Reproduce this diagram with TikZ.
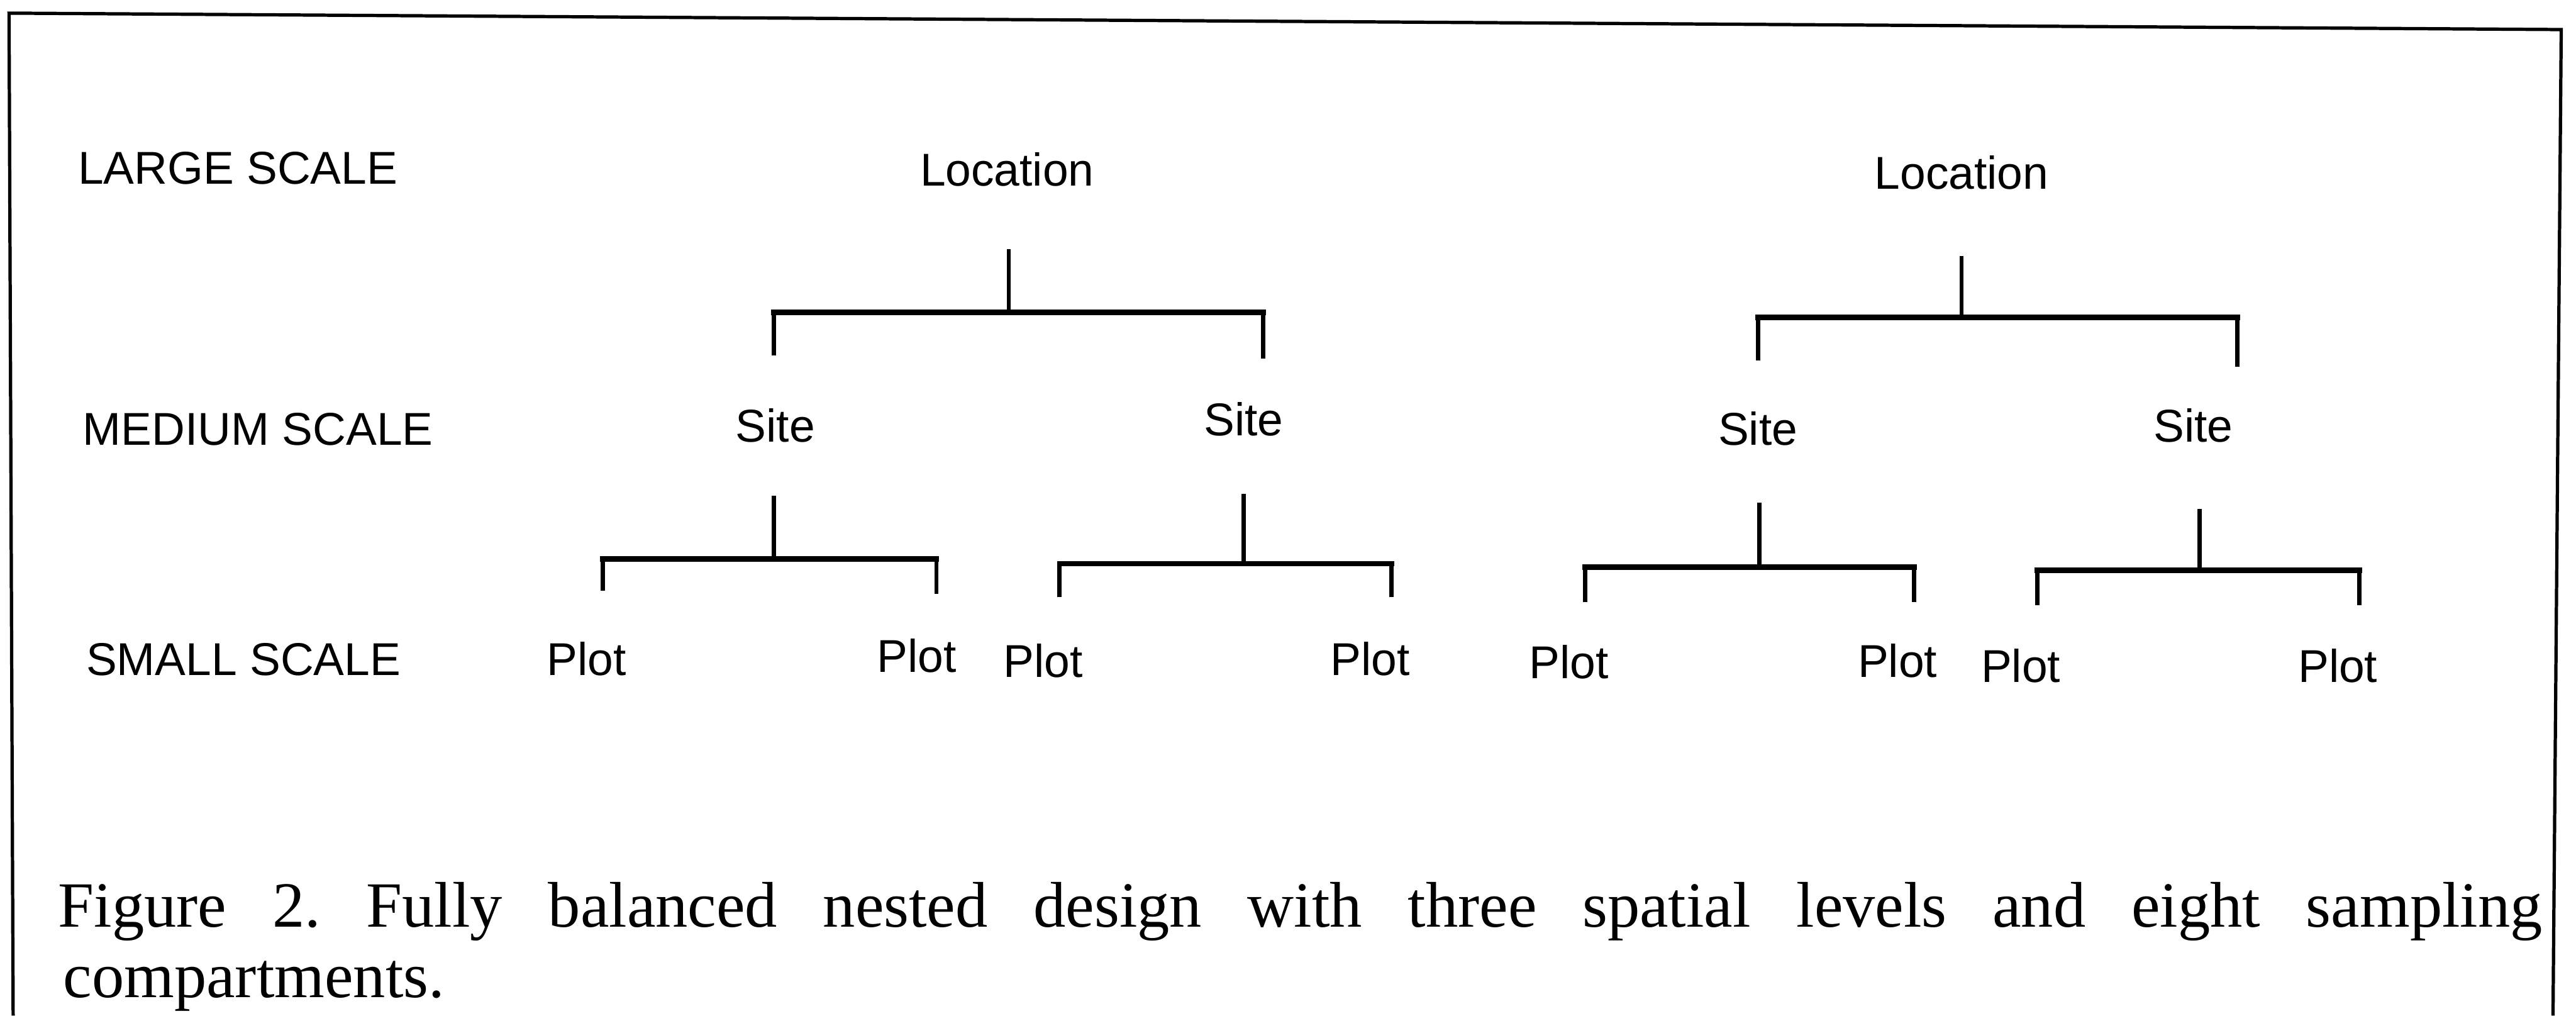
\documentclass[tikz,border=0pt]{standalone}
\usepackage{fontspec}
\setmainfont{Liberation Serif}
\newfontfamily\labfont{Liberation Sans}
\begin{document}
\frenchspacing
\begin{tikzpicture}[x=0.4pt,y=-0.4pt,
  lab/.style={font=\labfont\fontsize{11.2pt}{13pt}\selectfont, inner sep=0pt, anchor=base},
  lvl/.style={font=\labfont\fontsize{11.2pt}{13pt}\selectfont, inner sep=0pt, anchor=base west},
  capt/.style={font=\fontsize{15.7pt}{18pt}\selectfont, inner sep=0pt, anchor=base west},
  tree/.style={line width=1.05pt, line cap=rect},
  bar/.style={line width=1.35pt, line cap=rect},
  frame/.style={line width=0.8pt}]
\useasboundingbox (0,0) rectangle (1568,618);
% frame
\draw[frame] (8,618) -- (5.5,8) -- (1559,18) -- (1554,618);
% level labels
\node[lvl] (large) at (47,112) {LARGE SCALE};
\node[lvl] (medium) at (50,271) {MEDIUM SCALE};
\node[lvl] (small) at (52,411) {SMALL SCALE};
% top level
\node[lab] (loc1) at (613,113) {Location};
\node[lab] (loc2) at (1194,115) {Location};
% sites
\node[lab] (site1) at (472,269) {Site};
\node[lab] (site2) at (757,265) {Site};
\node[lab] (site3) at (1070,271) {Site};
\node[lab] (site4) at (1335,269) {Site};
% plots
\node[lab] (p1) at (357,411) {Plot};
\node[lab] (p2) at (558,409) {Plot};
\node[lab] (p3) at (635,412) {Plot};
\node[lab] (p4) at (834,411) {Plot};
\node[lab] (p5) at (955,413) {Plot};
\node[lab] (p6) at (1155,412) {Plot};
\node[lab] (p7) at (1230,415) {Plot};
\node[lab] (p8) at (1423,415) {Plot};
% bracket coordinates
\coordinate (a0) at (614,153); \coordinate (a1) at (614,190);
\coordinate (aL) at (471,190); \coordinate (aR) at (769,190);
\coordinate (aLe) at (471,215); \coordinate (aRe) at (769,217);
\coordinate (b0) at (1194,157); \coordinate (b1) at (1194,193);
\coordinate (bL) at (1070,193); \coordinate (bR) at (1362,193);
\coordinate (bLe) at (1070,218); \coordinate (bRe) at (1362,222);
\coordinate (c0) at (471,303); \coordinate (c1) at (471,340);
\coordinate (cL) at (367,340); \coordinate (cR) at (570,340);
\coordinate (cLe) at (367,358); \coordinate (cRe) at (570,360);
\coordinate (d0) at (757,302); \coordinate (d1) at (757,343);
\coordinate (dL) at (645,343); \coordinate (dR) at (847,343);
\coordinate (dLe) at (645,362); \coordinate (dRe) at (847,362);
\coordinate (e0) at (1071,307); \coordinate (e1) at (1071,345);
\coordinate (eL) at (965,345); \coordinate (eR) at (1165,345);
\coordinate (eLe) at (965,365); \coordinate (eRe) at (1165,365);
\coordinate (f0) at (1339,311); \coordinate (f1) at (1339,347);
\coordinate (fL) at (1240,347); \coordinate (fR) at (1436,347);
\coordinate (fLe) at (1240,367); \coordinate (fRe) at (1436,367);
\foreach \t in {a,b,c,d,e,f}{
  \draw[tree] (\t0) -- (\t1);
  \draw[tree] (\t L) -- (\t Le);
  \draw[tree] (\t R) -- (\t Re);
  \draw[bar] (\t L) -- (\t R);
}
% caption
\node[capt] (cap1) at (35,564) {\makebox[604.8pt][s]{Figure 2. Fully balanced nested design with three spatial levels and eight sampling}};
\node[capt] (cap2) at (38,607) {compartments.};
\end{tikzpicture}
\end{document}
